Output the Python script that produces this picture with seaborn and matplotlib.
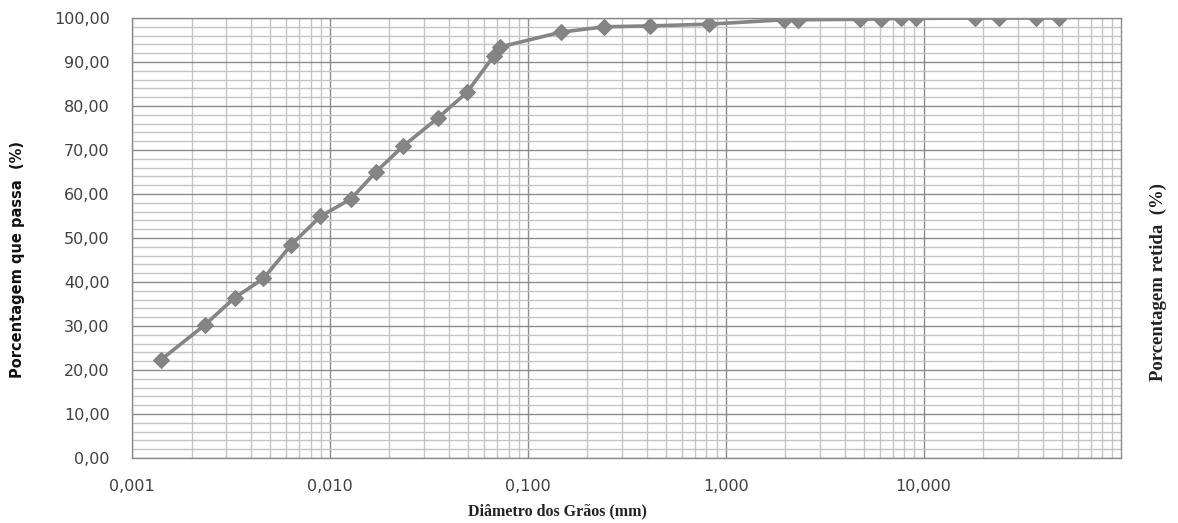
import matplotlib
matplotlib.use("Agg")
import matplotlib.pyplot as plt
import matplotlib.ticker as mticker
import numpy as np
import pandas as pd
import seaborn as sns

# Data
diametro_mm = [0.0014, 0.00233, 0.0033, 0.00462, 0.0064, 0.00896, 0.0128, 0.01715,
               0.0235, 0.0352, 0.0493, 0.0674, 0.0723, 0.148, 0.244, 0.417, 0.826,
               1.97, 2.32, 4.76, 6.07, 7.66, 9.12, 18.2, 24.1, 37.1, 48.4]
passa_pct = [22.3, 30.2, 36.4, 40.8, 48.5, 54.9, 58.9, 65.1,
             70.9, 77.3, 83.1, 91.4, 93.4, 96.8, 98.0, 98.2, 98.6,
             99.6, 99.6, 99.7, 99.8, 99.9, 99.9, 100.0, 100.0, 100.0, 100.0]
x_ticks = [0.001, 0.01, 0.1, 1, 10]
x_tick_labels = ["0,001", "0,010", "0,100", "1,000", "10,000"]
y_ticks = list(range(0, 101, 10))
y_tick_labels = [f"{v},00" for v in y_ticks]

df = pd.DataFrame({"d": diametro_mm, "p": passa_pct})

sns.set_style("white")
plt.rcParams["font.family"] = ["DejaVu Sans"]

fig = plt.figure(figsize=(11.78, 5.23), dpi=100)
ax = fig.add_axes([0.112, 0.1243, 0.84, 0.8413])

ax.set_xscale("log")
ax.set_xlim(0.001, 100)
ax.set_ylim(0, 100)

# grid
ax.xaxis.set_major_locator(mticker.FixedLocator(x_ticks))
ax.xaxis.set_minor_locator(mticker.LogLocator(base=10, subs=np.arange(2, 10)))
ax.xaxis.set_minor_formatter(mticker.NullFormatter())
ax.set_xticklabels(x_tick_labels)
ax.yaxis.set_major_locator(mticker.FixedLocator(y_ticks))
ax.yaxis.set_minor_locator(mticker.MultipleLocator(2))
ax.set_yticklabels(y_tick_labels)

ax.grid(which="major", color="#8c8c8c", linewidth=1.0)
ax.grid(which="minor", color="#c4c4c4", linewidth=1.0)
ax.set_axisbelow(True)

sns.lineplot(data=df, x="d", y="p", ax=ax, color="#858585", linewidth=2.6,
             marker="D", markersize=8, markeredgecolor="#808080",
             markerfacecolor="#858585", sort=False)

for s in ax.spines.values():
    s.set_color("#8c8c8c")
    s.set_linewidth(1.0)

ax.tick_params(axis="both", which="major", length=6, color="#8c8c8c",
               labelsize=11.5, labelcolor="#404040", direction="out")
ax.tick_params(axis="x", which="major", pad=9)
ax.tick_params(axis="y", which="major", pad=10)
ax.tick_params(axis="both", which="minor", length=0)

ax.set_xlabel("")
ax.set_ylabel("")

fig.text(0.015, 0.503, "Porcentagem que passa  (%)", rotation=90, ha="center",
         va="center", fontsize=10.5, fontweight="bold",
         family=["DejaVu Sans"], color="#111111")
fig.text(0.473, 0.022, "Diâmetro dos Grãos (mm)", ha="center", va="center",
         fontsize=11.5, fontweight="bold", family=["Liberation Serif", "DejaVu Serif"],
         color="#222222")
fig.text(0.983, 0.461, "Porcentagem retida  (%)", rotation=90, ha="center",
         va="center", fontsize=13.5, fontweight="bold",
         family=["Liberation Serif", "DejaVu Serif"], color="#222222")

fig.savefig("out.png", dpi=100)
